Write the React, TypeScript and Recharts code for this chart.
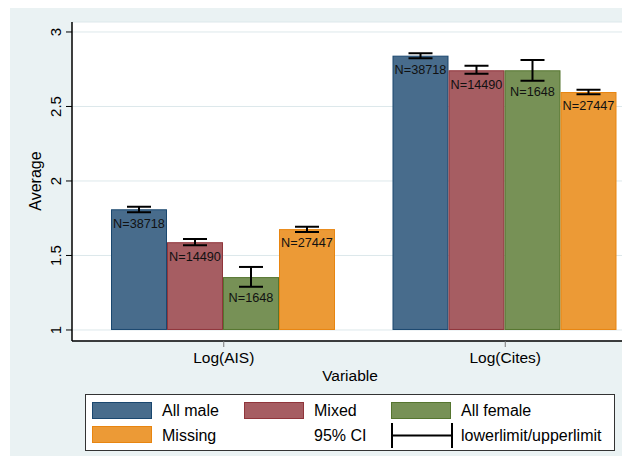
import React from 'react'
import { BarChart, Bar, XAxis, YAxis, CartesianGrid } from 'recharts'

const CATEGORIES = ['Log(AIS)', 'Log(Cites)']

const ALL_MALE = [1.81, 2.841]
const MIXED = [1.589, 2.743]
const ALL_FEMALE = [1.355, 2.743]
const MISSING = [1.677, 2.597]

const ALL_MALE_CI = [[1.79, 1.827], [2.824, 2.857]]
const MIXED_CI = [[1.569, 1.611], [2.72, 2.774]]
const ALL_FEMALE_CI = [[1.29, 1.423], [2.673, 2.812]]
const MISSING_CI = [[1.658, 1.693], [2.582, 2.613]]

const COUNTS = { male: 38718, mixed: 14490, female: 1648, missing: 27447 }

const Y_TICKS = [1, 1.5, 2, 2.5, 3]

const FONT = '"Liberation Sans", Arial, Helvetica, sans-serif'
const BG = '#eaf2f3'

const SERIES = [
  { key: 'male', name: 'All male', values: ALL_MALE, ci: ALL_MALE_CI, n: COUNTS.male, fill: '#486c8c', stroke: '#1a476f' },
  { key: 'mixed', name: 'Mixed', values: MIXED, ci: MIXED_CI, n: COUNTS.mixed, fill: '#a65d62', stroke: '#90353b' },
  { key: 'female', name: 'All female', values: ALL_FEMALE, ci: ALL_FEMALE_CI, n: COUNTS.female, fill: '#779156', stroke: '#55752f' },
  { key: 'missing', name: 'Missing', values: MISSING, ci: MISSING_CI, n: COUNTS.missing, fill: '#ec9a36', stroke: '#e88510' },
]

const data = CATEGORIES.map((name, i) => {
  const row: any = { name }
  SERIES.forEach((s) => {
    row[s.key] = [1, s.values[i]]
    row[s.key + 'Ci'] = s.ci[i]
  })
  return row
})

// bar + 95% CI whiskers + N label, all placed from the bar's own geometry
function CIBar(props: any, s: any) {
  const { x, y, width, height, payload } = props
  const v = payload[s.key][1]
  const [lo, hi] = payload[s.key + 'Ci']
  const ppu = height / (v - 1)
  const yHi = y + (v - hi) * ppu
  const yLo = y + (v - lo) * ppu
  const cx = x + width / 2
  return (
    <g>
      <rect x={x + 0.5} y={y + 0.5} width={width - 1} height={height - 1} fill={s.fill} stroke={s.stroke} strokeWidth={1} />
      <line x1={cx} x2={cx} y1={yHi} y2={yLo} stroke="#000" strokeWidth={2} />
      <line x1={cx - 12} x2={cx + 12} y1={yHi} y2={yHi} stroke="#000" strokeWidth={2} />
      <line x1={cx - 12} x2={cx + 12} y1={yLo} y2={yLo} stroke="#000" strokeWidth={2} />
      <text x={cx} y={yLo + 15.5} textAnchor="middle" fontSize={12.7} fill="#111" fontFamily={FONT}>
        N={s.n}
      </text>
    </g>
  )
}

function YTick(props: any) {
  const { x, y, payload } = props
  return (
    <text x={x} y={y} transform={`rotate(-90 ${x} ${y})`} textAnchor="middle" fontSize={15} fill="#000" fontFamily={FONT}>
      {payload.value}
    </text>
  )
}

function Legend() {
  const sw = (left: number, top: number, s: any) => (
    <div style={{ position: 'absolute', left, top, width: 58, height: 15, background: s.fill, border: `1px solid ${s.stroke}` }} />
  )
  const txt = (left: number, top: number, t: string) => (
    <div style={{ position: 'absolute', left, top, fontSize: 16, lineHeight: '18px', whiteSpace: 'nowrap', color: '#000' }}>{t}</div>
  )
  return (
    <div style={{ position: 'absolute', left: 85, top: 394, width: 528, height: 55, background: '#fff', border: '1px solid #333', fontFamily: FONT }}>
      {sw(6, 7, SERIES[0])}
      {txt(76, 7, SERIES[0].name)}
      {sw(158, 7, SERIES[1])}
      {txt(228, 7, SERIES[1].name)}
      {sw(305, 7, SERIES[2])}
      {txt(375, 7, SERIES[2].name)}
      {sw(6, 31, SERIES[3])}
      {txt(76, 32, SERIES[3].name)}
      {txt(228, 32, '95% CI')}
      <svg style={{ position: 'absolute', left: 305, top: 28 }} width={62} height={26}>
        <line x1={1} x2={61} y1={12.5} y2={12.5} stroke="#000" strokeWidth={2} />
        <line x1={1} x2={1} y1={0} y2={25} stroke="#000" strokeWidth={2} />
        <line x1={61} x2={61} y1={0} y2={25} stroke="#000" strokeWidth={2} />
      </svg>
      {txt(375, 32, 'lowerlimit/upperlimit')}
    </div>
  )
}

export default function App() {
  return (
    <div style={{ position: 'relative', width: 630, height: 464, margin: -8, background: '#fff', fontFamily: FONT, overflow: 'hidden' }}>
      <div style={{ position: 'absolute', left: 10, top: 6, width: 620, height: 458, background: BG }} />
      <div style={{ position: 'absolute', left: 0, top: 0 }}>
        <BarChart
          width={630}
          height={464}
          data={data}
          margin={{ top: 22, right: 3, bottom: 93, left: 22 }}
          barGap={0}
          barCategoryGap={28}
        >
          <CartesianGrid vertical={false} stroke="#dde8eb" fill="#fff" />
          <XAxis
            dataKey="name"
            height={30}
            padding={{ left: 11, right: -19 }}
            axisLine={{ stroke: '#000', strokeWidth: 1.5 }}
            tickLine={{ stroke: '#777' }}
            tickSize={6}
            tickMargin={5}
            tick={{ fontSize: 15.5, fill: '#000', fontFamily: FONT }}
          />
          <YAxis
            width={50}
            domain={[0.926, 3.067]}
            ticks={Y_TICKS}
            allowDataOverflow
            axisLine={{ stroke: '#000', strokeWidth: 1.5 }}
            tickLine={{ stroke: '#000' }}
            tickSize={6}
            tickMargin={5}
            tick={<YTick />}
          />
          {SERIES.map((s) => (
            <Bar
              key={s.key}
              dataKey={s.key}
              name={s.name}
              fill={s.fill}
              isAnimationActive={false}
              shape={(p: any) => CIBar(p, s)}
            />
          ))}
        </BarChart>
      </div>
      <div style={{ position: 'absolute', left: -14, top: 172, width: 100, textAlign: 'center', fontSize: 16, lineHeight: '18px', transform: 'rotate(-90deg)', color: '#000' }}>
        Average
      </div>
      <div style={{ position: 'absolute', left: 250, top: 367, width: 200, textAlign: 'center', fontSize: 15.5, lineHeight: '18px', color: '#000' }}>
        Variable
      </div>
      <Legend />
    </div>
  )
}
